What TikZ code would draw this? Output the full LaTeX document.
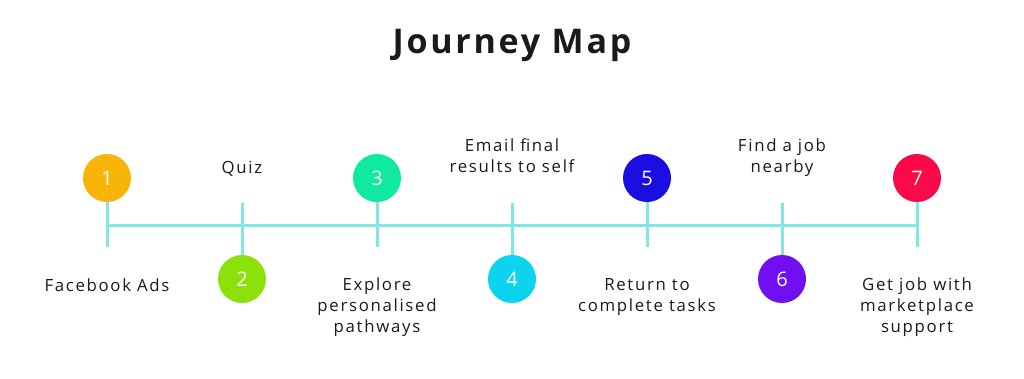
\documentclass[tikz,border=0pt]{standalone}
\usepackage{fontspec}
\setmainfont{Open Sans}[LetterSpace=10]
\newfontfamily\titlefont{Open Sans}[LetterSpace=8]
\newfontfamily\numfont{Open Sans}
\definecolor{linec}{HTML}{80E6E6}
\definecolor{txt}{HTML}{1A1A1A}
\definecolor{cA}{HTML}{F9B40A}
\definecolor{cB}{HTML}{8DE10B}
\definecolor{cC}{HTML}{10E9A0}
\definecolor{cD}{HTML}{0CD4EE}
\definecolor{cE}{HTML}{1A0EE0}
\definecolor{cF}{HTML}{7010F2}
\definecolor{cG}{HTML}{FA0A4A}
\begin{document}
\begin{tikzpicture}[x=1pt,y=-1pt,
  conn/.style={draw=linec,line width=3pt},
  stepcirc/.style={circle,minimum size=48pt,inner sep=0pt,text=white,font=\numfont\fontsize{20}{20}\selectfont},
  lbl/.style={text=txt,align=center,font=\fontsize{16.8}{21}\selectfont,inner sep=0pt},
  uplbl/.style={lbl,anchor=south,text depth=0pt}]
\useasboundingbox (0,0) rectangle (1024,378);
\node[font=\titlefont\bfseries\fontsize{34}{34}\selectfont,text=txt] (title) at (512,45) {Journey Map};
% axis
\coordinate (L) at (107,225);
\coordinate (R) at (917,225);
\draw[conn] (L) -- (R);
% tick coordinates
\foreach \i/\x in {1/107,2/242,3/377,4/512,5/647,6/782,7/917}{
  \coordinate (t\i) at (\x,203);
  \coordinate (b\i) at (\x,247);
}
% circles
\node[stepcirc,fill=cA] (c1) at (107,178) {1};
\node[stepcirc,fill=cB] (c2) at (242,279) {2};
\node[stepcirc,fill=cC] (c3) at (377,178) {3};
\node[stepcirc,fill=cD] (c4) at (512,279) {4};
\node[stepcirc,fill=cE] (c5) at (647,178) {5};
\node[stepcirc,fill=cF] (c6) at (782,279) {6};
\node[stepcirc,fill=cG] (c7) at (917,178) {7};
% ticks
\draw[conn] (c1.south) -- (b1);
\draw[conn] (t2) -- (c2.north);
\draw[conn] (c3.south) -- (b3);
\draw[conn] (t4) -- (c4.north);
\draw[conn] (c5.south) -- (b5);
\draw[conn] (t6) -- (c6.north);
\draw[conn] (c7.south) -- (b7);
% labels
\node[lbl,anchor=base] (l1) at (107,291) {Facebook Ads};
\node[lbl,anchor=base] (l2) at (242,173) {Quiz};
\node[lbl,anchor=north] (l3) at (377,278) {Explore\\personalised\\pathways};
\node[uplbl] (l4) at (512,173) {Email final\\results to self};
\node[lbl,anchor=north] (l5) at (647,278) {Return to\\complete tasks};
\node[uplbl] (l6) at (782,173) {Find a job\\nearby};
\node[lbl,anchor=north] (l7) at (917,278) {Get job with\\marketplace\\support};
\end{tikzpicture}
\end{document}
